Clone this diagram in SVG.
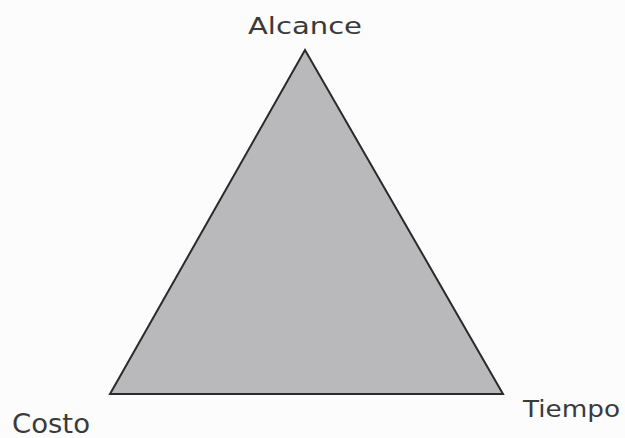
<svg xmlns="http://www.w3.org/2000/svg" width="625" height="438" viewBox="0 0 625 438">
<style>
.lbl{font-family:"Century Gothic","URW Gothic","DejaVu Sans","Liberation Sans",sans-serif;font-size:23px;fill:#3a3a3a}
.tri{fill:#b9b9bb;stroke:#2a2a2a;stroke-width:2;stroke-linejoin:miter}
</style>
<rect width="625" height="438" fill="#fcfcfc"/>
<g id="triangle"><polygon class="tri" points="305,50 110,394 503,394"/></g>
<g id="alcance"><text class="lbl" x="248" y="34" textLength="114" lengthAdjust="spacingAndGlyphs">Alcance</text></g>
<g id="costo"><text class="lbl" x="12" y="433" style="font-size:26px" textLength="78" lengthAdjust="spacingAndGlyphs">Costo</text></g>
<g id="tiempo"><text class="lbl" x="523" y="417" textLength="97" lengthAdjust="spacingAndGlyphs">Tiempo</text></g>
<g id="connectors"></g>
</svg>
